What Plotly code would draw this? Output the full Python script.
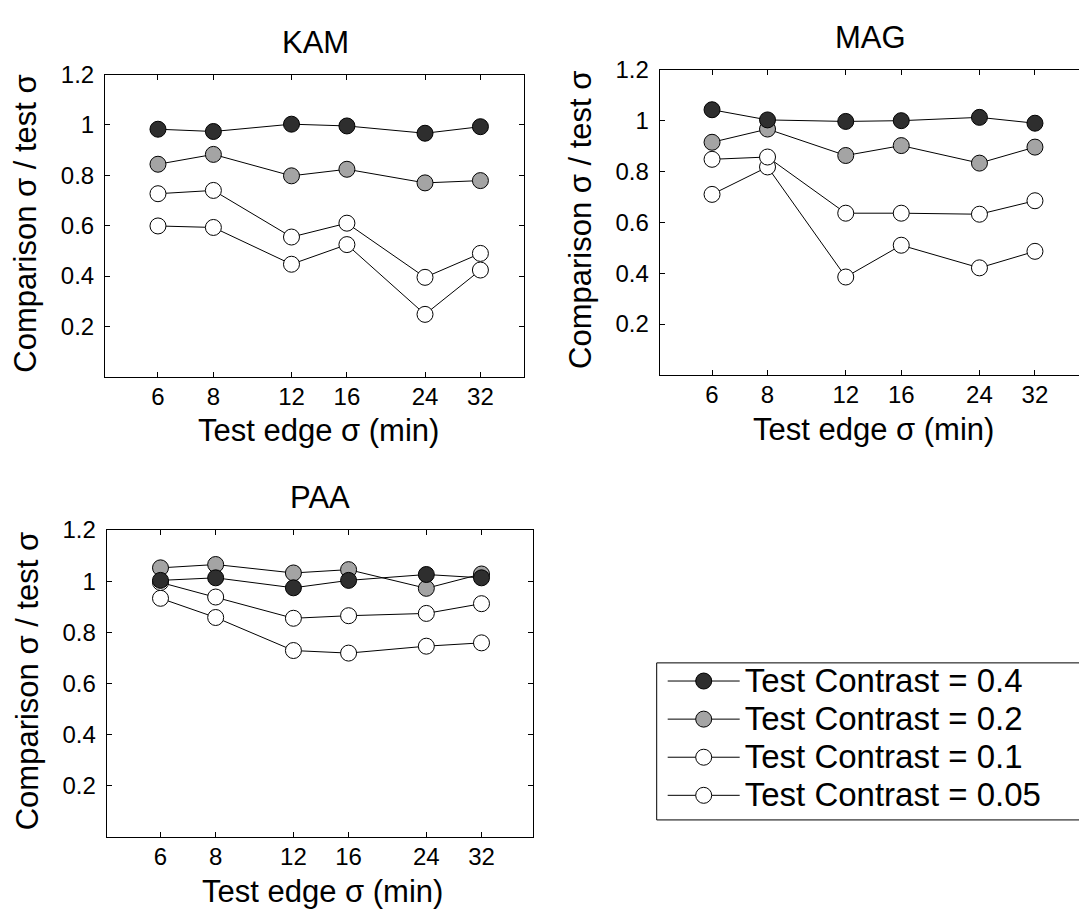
import plotly.graph_objects as go

# ---------------- data ----------------
x_sigma = [6, 8, 12, 16, 24, 32]
x_tick_labels = ["6", "8", "12", "16", "24", "32"]
y_tick_vals = [0.2, 0.4, 0.6, 0.8, 1.0, 1.2]
y_tick_labels = ["0.2", "0.4", "0.6", "0.8", "1", "1.2"]

contrast_labels = ["Test Contrast = 0.4", "Test Contrast = 0.2",
                   "Test Contrast = 0.1", "Test Contrast = 0.05"]

kam_c04 = [0.983, 0.974, 1.003, 0.996, 0.967, 0.993]
kam_c02 = [0.844, 0.883, 0.798, 0.824, 0.770, 0.779]
kam_c01 = [0.727, 0.740, 0.555, 0.610, 0.395, 0.490]
kam_c005 = [0.599, 0.593, 0.447, 0.525, 0.248, 0.424]

mag_c04 = [1.043, 1.003, 0.997, 1.000, 1.013, 0.990]
mag_c02 = [0.915, 0.967, 0.863, 0.902, 0.833, 0.896]
mag_c01 = [0.848, 0.857, 0.636, 0.636, 0.632, 0.685]
mag_c005 = [0.710, 0.818, 0.385, 0.510, 0.421, 0.486]

paa_c04 = [1.003, 1.013, 0.974, 1.003, 1.026, 1.013]
paa_c02 = [1.052, 1.065, 1.032, 1.045, 0.972, 1.028]
paa_c01 = [0.995, 0.938, 0.855, 0.865, 0.874, 0.912]
paa_c005 = [0.933, 0.858, 0.729, 0.719, 0.746, 0.759]

observers = ["KAM", "MAG", "PAA"]
series = {
    "KAM": [kam_c04, kam_c02, kam_c01, kam_c005],
    "MAG": [mag_c04, mag_c02, mag_c01, mag_c005],
    "PAA": [paa_c04, paa_c02, paa_c01, paa_c005],
}

# ---------------- styles ----------------
W, H = 1079, 912
FONT = "Liberation Sans, Arial, Helvetica, sans-serif"
fills = ["#2e2e2e", "#a4a4a4", "#ffffff", "#ffffff"]

# panel pixel boxes: left, right, top, bottom ; x log range
panels = {
    "KAM": dict(box=(105, 524, 61.5, 368.5), xr=(0.6587, 1.6034), ax="", tx=315),
    "MAG": dict(box=(659.6, 1079, 56.7, 366.5), xr=(0.6601, 1.6043), ax="2", tx=870),
    "PAA": dict(box=(106.7, 533, 524, 836), xr=(0.6563, 1.6218), ax="3", tx=320),
}


def px(x):
    return x / W


def py(y):
    return 1 - y / H


fig = go.Figure()

for obs in observers:
    p = panels[obs]
    ax = p["ax"]
    # draw lowest contrast first so dark markers sit on top
    for i in [3, 2, 1, 0]:
        fig.add_trace(go.Scatter(
            x=x_sigma, y=series[obs][i],
            mode="lines+markers",
            name='<span style="font-size:33px">' + contrast_labels[i] + "</span>",
            legendgroup=contrast_labels[i],
            legendrank=i + 1,
            showlegend=(obs == "KAM"),
            line=dict(color="black", width=1),
            marker=dict(size=16, color=fills[i], line=dict(color="black", width=1)),
            xaxis="x" + ax, yaxis="y" + ax,
        ))

layout = dict(
    width=W, height=H,
    margin=dict(l=0, r=0, t=0, b=0),
    paper_bgcolor="white", plot_bgcolor="white",
    font=dict(family=FONT, color="black"),
    showlegend=True,
    legend=dict(
        x=px(656.7), y=py(653), xanchor="left", yanchor="top",
        bgcolor="rgba(0,0,0,0)", borderwidth=0,
        font=dict(size=27, family=FONT, color="black"),
        itemwidth=72, indentation=6, tracegroupgap=0,
    ),
    shapes=[dict(type="rect", xref="paper", yref="paper",
                 x0=px(656.7), x1=px(1090), y0=py(818.5), y1=py(659),
                 line=dict(color="black", width=1), fillcolor="rgba(0,0,0,0)",
                 layer="below")],
)

annotations = []
for obs in observers:
    p = panels[obs]
    l, r, t, b = p["box"]
    ax = p["ax"]
    layout["xaxis" + ax] = dict(
        type="log", range=list(p["xr"]), domain=[px(l), px(r)],
        anchor="y" + ax,
        tickvals=x_sigma, ticktext=x_tick_labels,
        ticks="inside", ticklen=5, tickcolor="black", tickwidth=1,
        showline=True, linecolor="black", linewidth=1,
        mirror="ticks", showgrid=False, zeroline=False,
        tickfont=dict(size=24, family=FONT, color="black"),
        ticklabelstandoff=-2,
    )
    layout["yaxis" + ax] = dict(
        range=[0, 1.2], domain=[py(b), py(t)],
        anchor="x" + ax,
        tickvals=y_tick_vals, ticktext=y_tick_labels,
        ticks="inside", ticklen=5, tickcolor="black", tickwidth=1,
        showline=True, linecolor="black", linewidth=1,
        mirror=("ticks" if obs != "MAG" else False),
        showgrid=False, zeroline=False,
        tickfont=dict(size=24, family=FONT, color="black"),
        ticklabelstandoff=5,
    )
    cx = p["tx"]
    # panel title
    annotations.append(dict(text=obs, x=px(cx), y=py(t - 32.5), xref="paper", yref="paper",
                            xanchor="center", yanchor="middle", showarrow=False,
                            font=dict(size=31, family=FONT, color="black")))
    # x-axis title
    annotations.append(dict(text="Test edge σ (min)", x=px(cx + 3), y=py(b + 55),
                            xref="paper", yref="paper", xanchor="center", yanchor="middle",
                            showarrow=False, font=dict(size=31, family=FONT, color="black")))
    # y-axis title
    annotations.append(dict(text="Comparison σ / test σ", x=px(l - 79), y=py((t + b) / 2 - 2),
                            xref="paper", yref="paper", xanchor="center", yanchor="middle",
                            textangle=-90, showarrow=False,
                            font=dict(size=31, family=FONT, color="black")))

layout["annotations"] = annotations
fig.update_layout(**layout)
fig.write_html("out.html")
